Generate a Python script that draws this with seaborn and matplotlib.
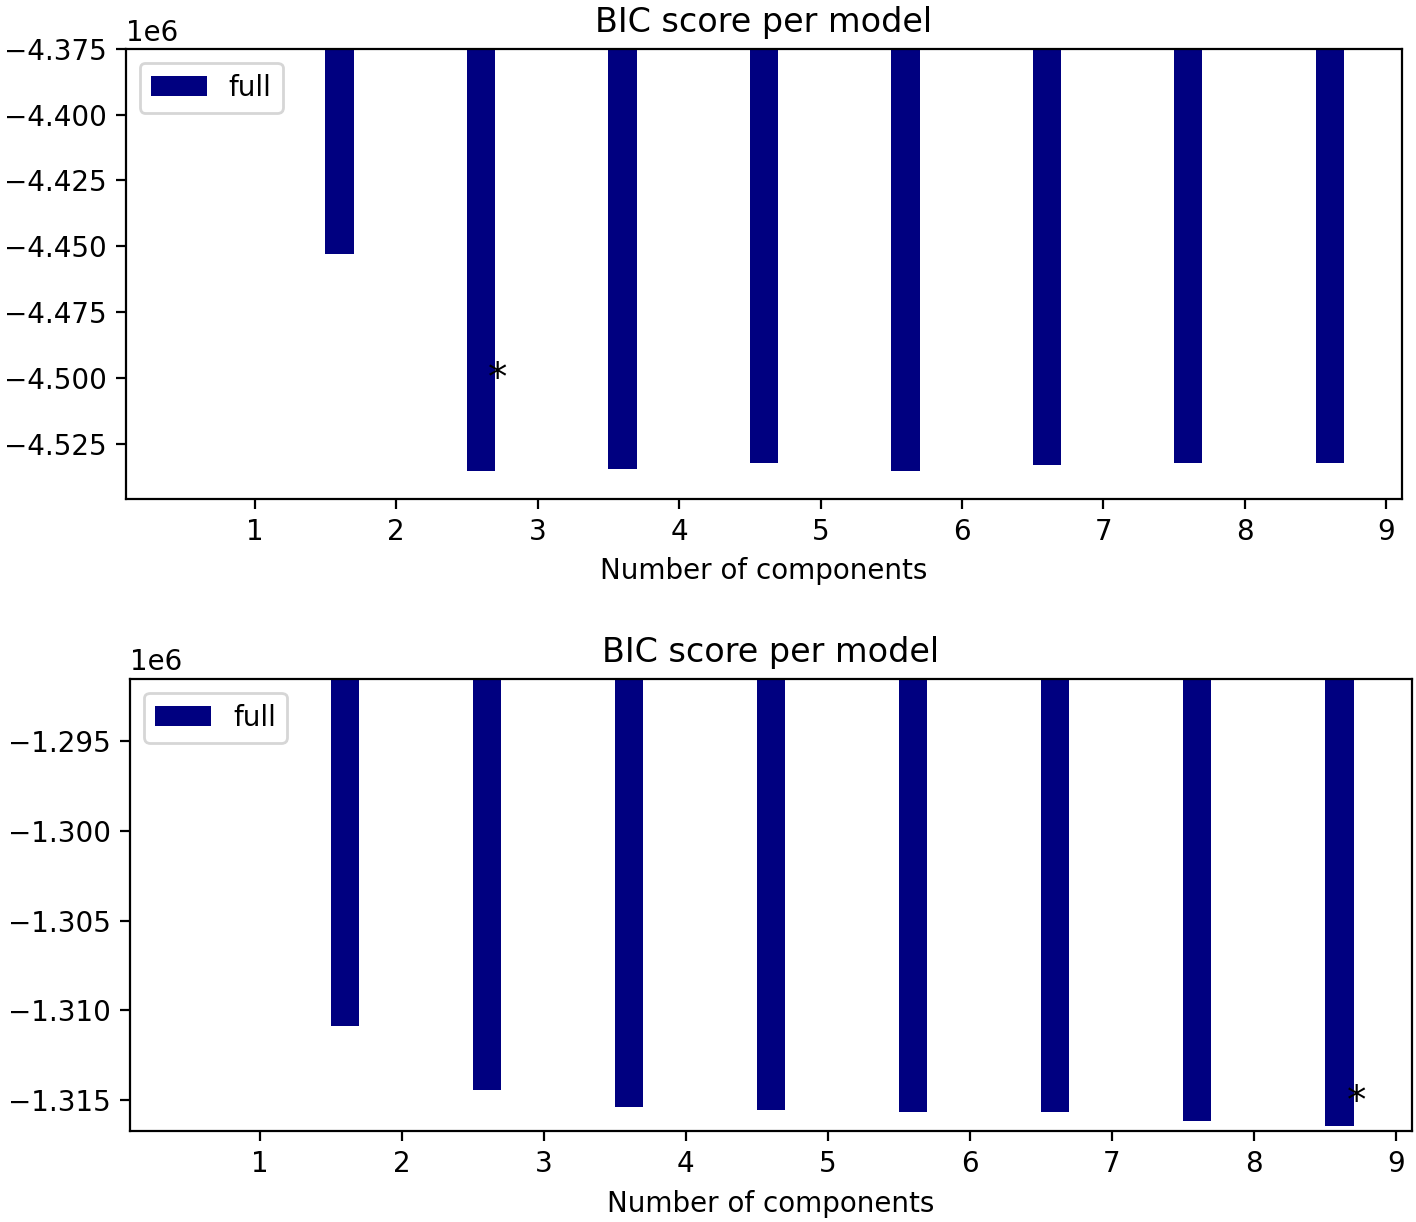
import numpy as np
import pandas as pd
import matplotlib
matplotlib.use('Agg')
import matplotlib.pyplot as plt
import seaborn as sb

# BIC scores (first value = 1 component)
n_components = [1, 2, 3, 4, 5, 6, 7, 8, 9]
bic_top = [-3.50e6, -4.4528e6, -4.5355e6, -4.5345e6, -4.5322e6,
           -4.5353e6, -4.5332e6, -4.5323e6, -4.5323e6]
bic_bottom = [-1.2915e6, -1.31091e6, -1.31444e6, -1.31541e6, -1.31556e6,
              -1.31571e6, -1.31571e6, -1.31621e6, -1.31650e6]
y_upper = [-4.375e6, None]   # None -> use bic.max() like the sklearn example
cv_type = 'full'

fig = plt.figure(figsize=(7.08, 6.11), dpi=200)
ax1 = fig.add_axes([0.089, 0.592, 0.901, 0.368])
ax2 = fig.add_axes([0.092, 0.0745, 0.905, 0.370])


def bic_panel(ax, bic, top):
    bic = np.array(bic)
    df = pd.DataFrame({'xpos': np.array(n_components) - 0.4, 'bic': bic})
    sb.barplot(data=df, x='xpos', y='bic', native_scale=True, width=0.2,
               color='navy', saturation=1, errorbar=None, label=cv_type, ax=ax)
    ax.set_xticks(n_components)
    if top is None:
        top = bic.max()
    ax.set_ylim([bic.min() * 1.01 - .01 * bic.max(), top])
    ax.set_title('BIC score per model')
    # mark the best model
    xpos = bic.argmin() + .65
    ax.text(xpos, bic.min() * 0.97 + .03 * bic.max(), '*', fontsize=14)
    ax.set_xlabel('Number of components')
    ax.set_ylabel('')
    ax.legend(loc='upper left')


bic_panel(ax1, bic_top, y_upper[0])
bic_panel(ax2, bic_bottom, y_upper[1])

plt.savefig('out.png', dpi=200)
